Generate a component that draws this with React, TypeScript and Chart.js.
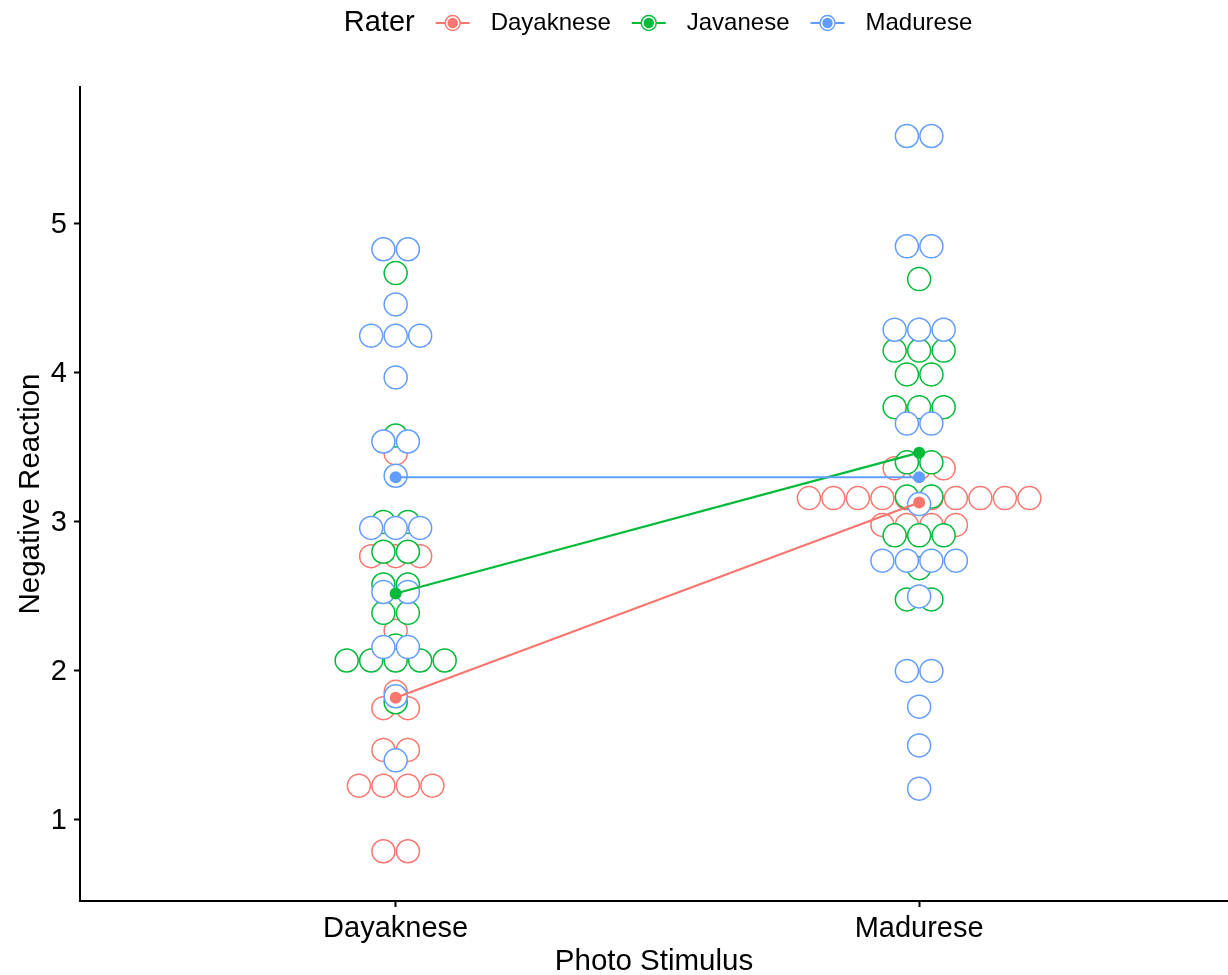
import React, { useEffect, useRef } from 'react';
import { Chart, registerables } from 'chart.js';

Chart.register(...registerables);

const FONT = '"Liberation Sans", Arial, Helvetica, sans-serif';

// ---- data ----
const stimuli = ['Dayaknese', 'Madurese'];
const raters = ['Dayaknese', 'Javanese', 'Madurese'];
const raterColors = ['#F8766D', '#00BA38', '#619CFF'];
const yTickValues = [1, 2, 3, 4, 5];

// binned scores (dot-plot bin centres), one entry per rater, photo stimulus "Dayaknese"
const dayakRaterDayakPhoto = [3.46, 2.77, 2.77, 2.77, 2.27, 1.86, 1.75, 1.75, 1.47, 1.47, 1.23, 1.23, 1.23, 1.23, 0.79, 0.79];
const javaRaterDayakPhoto = [4.67, 3.58, 3.0, 3.0, 2.8, 2.8, 2.58, 2.58, 2.39, 2.39, 2.17, 2.07, 2.07, 2.07, 2.07, 2.07, 1.79];
const maduraRaterDayakPhoto = [4.83, 4.83, 4.46, 4.25, 4.25, 4.25, 3.97, 3.54, 3.54, 3.31, 2.96, 2.96, 2.96, 2.53, 2.53, 2.16, 2.16, 1.83, 1.4];

// photo stimulus "Madurese"
const dayakRaterMaduraPhoto = [3.36, 3.36, 3.36, 3.16, 3.16, 3.16, 3.16, 3.16, 3.16, 3.16, 3.16, 3.16, 3.16, 2.98, 2.98, 2.98, 2.98];
const javaRaterMaduraPhoto = [4.63, 4.15, 4.15, 4.15, 3.99, 3.99, 3.77, 3.77, 3.77, 3.4, 3.4, 3.17, 3.17, 2.91, 2.91, 2.91, 2.69, 2.48, 2.48];
const maduraRaterMaduraPhoto = [5.59, 5.59, 4.85, 4.85, 4.29, 4.29, 4.29, 3.66, 3.66, 3.12, 2.74, 2.74, 2.74, 2.74, 2.5, 2.0, 2.0, 1.76, 1.5, 1.21];

// group means per rater: [Dayaknese photo, Madurese photo]
const meanDayakRater = [1.82, 3.13];
const meanJavaRater = [2.52, 3.465];
const meanMaduraRater = [3.3, 3.3];

// ---- layout / style constants ----
const STACK_STEP = 0.0468; // horizontal dot spacing (x units)
const DOT_RADIUS = 11.5;

function stackDots(values: number[], center: number) {
  const groups: { v: number; n: number }[] = [];
  values.forEach((v) => {
    const g = groups.find((q) => q.v === v);
    if (g) g.n += 1;
    else groups.push({ v, n: 1 });
  });
  const pts: { x: number; y: number }[] = [];
  groups.forEach((g) => {
    for (let i = 0; i < g.n; i++) {
      pts.push({ x: center + (i - (g.n - 1) / 2) * STACK_STEP, y: g.v });
    }
  });
  return pts;
}

const dotsByRater = [
  [dayakRaterDayakPhoto, dayakRaterMaduraPhoto],
  [javaRaterDayakPhoto, javaRaterMaduraPhoto],
  [maduraRaterDayakPhoto, maduraRaterMaduraPhoto],
];
const meansByRater = [meanDayakRater, meanJavaRater, meanMaduraRater];

const legendPlugin = {
  id: 'raterLegend',
  afterDraw(chart: any) {
    const ctx = chart.ctx as CanvasRenderingContext2D;
    const { left, right } = chart.chartArea;
    const y = 23;
    const gap = 21;
    const keyW = 34;
    ctx.save();
    ctx.textBaseline = 'middle';
    ctx.textAlign = 'left';
    ctx.font = `29px ${FONT}`;
    const titleW = ctx.measureText('Rater').width;
    ctx.font = `24px ${FONT}`;
    const labelWs = raters.map((r) => ctx.measureText(r).width);
    const total = titleW + raters.length * (gap + keyW + gap) + labelWs.reduce((a, b) => a + b, 0);
    let x = (left + right) / 2 - total / 2 + 4;
    ctx.fillStyle = '#000';
    ctx.font = `29px ${FONT}`;
    ctx.fillText('Rater', x, y);
    x += titleW;
    raters.forEach((r, i) => {
      x += gap;
      const c = raterColors[i];
      const cx = x + keyW / 2;
      ctx.strokeStyle = c;
      ctx.lineWidth = 2;
      ctx.beginPath();
      ctx.moveTo(x, y);
      ctx.lineTo(x + keyW, y);
      ctx.stroke();
      ctx.beginPath();
      ctx.arc(cx, y, 7.5, 0, Math.PI * 2);
      ctx.fillStyle = '#fff';
      ctx.fill();
      ctx.lineWidth = 1.4;
      ctx.stroke();
      ctx.beginPath();
      ctx.arc(cx, y, 5.2, 0, Math.PI * 2);
      ctx.fillStyle = c;
      ctx.fill();
      x += keyW + gap;
      ctx.fillStyle = '#000';
      ctx.font = `24px ${FONT}`;
      ctx.fillText(r, x, y);
      x += labelWs[i];
    });
    ctx.restore();
  },
};

export default function App() {
  const ref = useRef<HTMLCanvasElement>(null);
  useEffect(() => {
    if (!ref.current) return;
    Chart.defaults.font.family = FONT;
    const datasets: any[] = [];
    dotsByRater.forEach((perStim, ri) => {
      const pts = perStim.flatMap((vals, si) => stackDots(vals, si + 1));
      datasets.push({
        type: 'scatter',
        label: raters[ri] + ' dots',
        data: pts,
        pointRadius: DOT_RADIUS,
        pointHoverRadius: DOT_RADIUS,
        pointBackgroundColor: '#ffffff',
        pointBorderColor: raterColors[ri],
        pointBorderWidth: 1.5,
        showLine: false,
        order: 10 - ri,
      });
    });
    meansByRater.forEach((m, ri) => {
      datasets.push({
        type: 'line',
        label: raters[ri],
        data: m.map((v, si) => ({ x: si + 1, y: v })),
        borderColor: raterColors[ri],
        borderWidth: 2.2,
        pointRadius: 6,
        pointBackgroundColor: raterColors[ri],
        pointBorderWidth: 0,
        fill: false,
        tension: 0,
        order: 3 - ri,
      });
    });

    const axisCommon = {
      grid: { display: true, drawOnChartArea: false, drawTicks: true, tickLength: 6, tickWidth: 2, tickColor: '#000', color: '#000' },
      border: { display: true, color: '#000', width: 2 },
    };

    const chart = new Chart(ref.current, {
      type: 'scatter',
      data: { datasets },
      options: {
        responsive: false,
        animation: false,
        events: [],
        layout: { autoPadding: false, padding: { top: 87, left: 0, right: 0, bottom: 0 } },
        plugins: { legend: { display: false }, tooltip: { enabled: false } },
        scales: {
          x: {
            type: 'linear',
            min: 0.397,
            max: 2.59,
            afterBuildTicks: (s: any) => {
              s.ticks = stimuli.map((_, i) => ({ value: i + 1 }));
            },
            afterFit: (s: any) => {
              s.height = 74;
              s.paddingLeft = 0;
              s.paddingRight = 0;
            },
            ticks: {
              callback: (v: any) => stimuli[Math.round(v) - 1] ?? '',
              font: { size: 29, family: FONT },
              color: '#000',
              padding: 5,
              maxRotation: 0,
              autoSkip: false,
            },
            title: { display: true, text: 'Photo Stimulus', color: '#000', font: { size: 29.5, lineHeight: 1, family: FONT }, padding: { top: 0, bottom: -2 } },
            ...axisCommon,
          },
          y: {
            type: 'linear',
            min: 0.456,
            max: 5.919,
            afterBuildTicks: (s: any) => {
              s.ticks = yTickValues.map((v) => ({ value: v }));
            },
            afterFit: (s: any) => {
              s.width = 80;
              s.paddingTop = 0;
              s.paddingBottom = 0;
            },
            ticks: {
              callback: (v: any) => String(v),
              font: { size: 29, family: FONT },
              color: '#000',
              padding: 7,
              labelOffset: 1.5,
              autoSkip: false,
            },
            title: { display: true, text: 'Negative Reaction', color: '#000', font: { size: 29.5, lineHeight: 1, family: FONT }, padding: { top: 16, bottom: 0 } },
            ...axisCommon,
          },
        },
      },
      plugins: [legendPlugin],
    });
    return () => chart.destroy();
  }, []);
  return (
    <div style={{ position: 'absolute', left: 0, top: 0, width: 1228, height: 975, background: '#fff' }}>
      <canvas ref={ref} width={1228} height={975} style={{ display: 'block' }} />
    </div>
  );
}
